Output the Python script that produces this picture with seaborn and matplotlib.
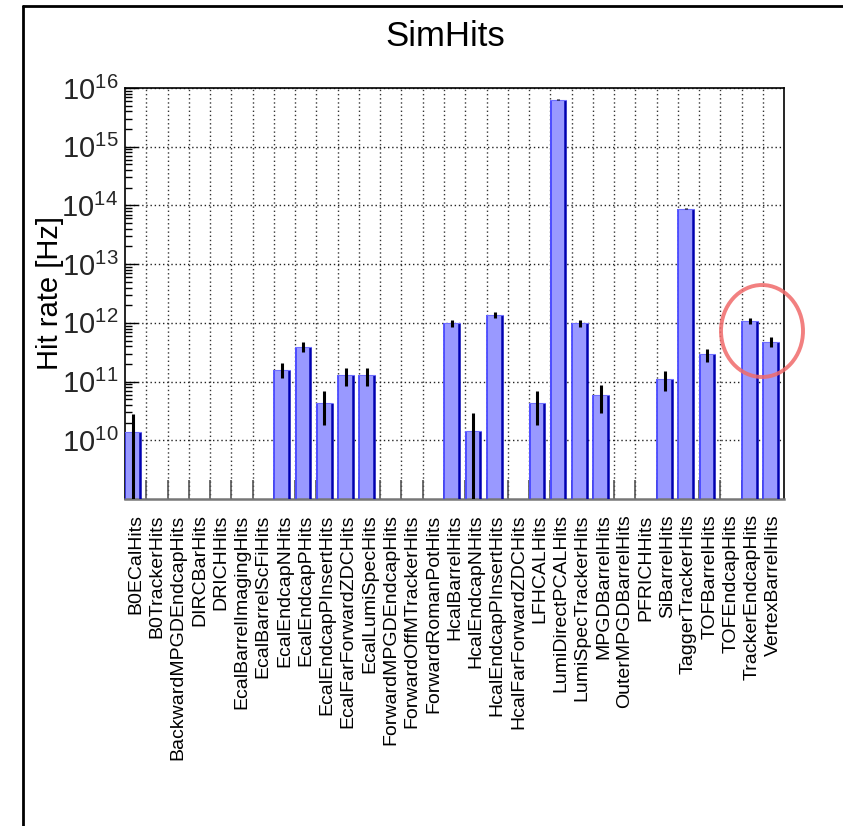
import numpy as np
import pandas as pd
import matplotlib
matplotlib.use("Agg")
import matplotlib.pyplot as plt
import seaborn as sns
from matplotlib.patches import Ellipse
from matplotlib.lines import Line2D
from matplotlib.ticker import FixedLocator, LogLocator, NullFormatter, FuncFormatter

categories = ["B0ECalHits", "B0TrackerHits", "BackwardMPGDEndcapHits", "DIRCBarHits",
              "DRICHHits", "EcalBarrelImagingHits", "EcalBarrelScFiHits", "EcalEndcapNHits",
              "EcalEndcapPHits", "EcalEndcapPInsertHits", "EcalFarForwardZDCHits",
              "EcalLumiSpecHits", "ForwardMPGDEndcapHits", "ForwardOffMTrackerHits",
              "ForwardRomanPotHits", "HcalBarrelHits", "HcalEndcapNHits",
              "HcalEndcapPInsertHits", "HcalFarForwardZDCHits", "LFHCALHits",
              "LumiDirectPCALHits", "LumiSpecTrackerHits", "MPGDBarrelHits",
              "OuterMPGDBarrelHits", "PFRICHHits", "SiBarrelHits", "TaggerTrackerHits",
              "TOFBarrelHits", "TOFEndcapHits", "TrackerEndcapHits", "VertexBarrelHits"]

nan = np.nan
hit_rate = [1.4e10, nan, nan, nan, nan, nan, nan, 1.6e11,
            3.9e11, 4.4e10, 1.27e11, 1.27e11, nan, nan, nan, 1.0e12,
            1.45e10, 1.37e12, nan, 4.4e10, 6.3e15, 1.0e12, 5.9e10,
            nan, nan, 1.12e11, 8.8e13, 2.9e11, nan, 1.08e12, 4.8e11]
hit_err = [1.4e10, nan, nan, nan, nan, nan, nan, 4.6e10,
           7.5e10, 2.6e10, 4.3e10, 4.3e10, nan, nan, nan, 1.4e11,
           1.45e10, 1.6e11, nan, 2.6e10, 8e13, 1.4e11, 3.0e10,
           nan, nan, 4.2e10, 1.5e12, 7.3e10, nan, 1.4e11, 9.8e10]
ytick_values = [1e10, 1e11, 1e12, 1e13, 1e14, 1e15, 1e16]

df = pd.DataFrame({"det": categories, "rate": hit_rate, "err": hit_err})

sns.set_theme(style="white")
plt.rcParams["font.family"] = ["Liberation Sans", "DejaVu Sans"]

W, H = 843, 826
fig = plt.figure(figsize=(W / 100, H / 100), dpi=100)
fig.patch.set_facecolor("white")
fig.patch.set_edgecolor("none")
fig.patch.set_linewidth(0)
ax = fig.add_axes([125 / W, 1 - 499 / H, (784.3 - 125) / W, (499 - 88) / H])
ax.set_yscale("log")

bar_w = 0.75
sns.barplot(data=df, x="det", y="rate", order=categories, width=bar_w,
            color="#9999ff", saturation=1, errorbar=None, ax=ax,
            edgecolor="none", linewidth=0)

# shift bars so they start at the left bin edge (ROOT bar style)
shift = 0.5 - bar_w / 2
err_x, err_y, err_e = [], [], []
err_by_pos = dict(zip(range(len(categories)), hit_err))
for p in ax.patches:
    h = p.get_height()
    if not np.isfinite(h) or h <= 0:
        continue
    p.set_x(p.get_x() - shift)
    x0 = p.get_x()
    x1 = x0 + p.get_width()
    ax.plot([x0 + 0.02, x0 + 0.02], [1e8, h], color="#4040ff", lw=1.2, solid_capstyle="butt", zorder=3)
    ax.plot([x1 - 0.04, x1 - 0.04], [1e8, h], color="#0000b0", lw=1.8, solid_capstyle="butt", zorder=3)
    ax.plot([x0, x1], [h, h], color="#7070ff", lw=0.8, zorder=3)
    idx = int(round(x0 + 0.5))
    err_x.append(x0 + p.get_width() / 2)
    err_y.append(h)
    err_e.append(err_by_pos[idx])

ax.errorbar(err_x, err_y, yerr=err_e, fmt="none", ecolor="black",
            elinewidth=2.2, capsize=0, zorder=4)

ax.set_xlim(-0.5, len(categories) - 0.5)
ax.set_ylim(1e9, 1e16)

# x axis: labels at bin centres, ticks + grid at bin edges
ax.set_xticks(range(len(categories)))
ax.set_xticklabels(categories, rotation=90, fontsize=14, color="black")
ax.xaxis.set_minor_locator(FixedLocator(np.arange(0.5, len(categories) - 0.5, 1.0)))
ax.tick_params(axis="x", which="major", length=0, pad=11)
ax.tick_params(axis="x", which="minor", direction="in", length=14, width=1.2,
               color="#555555", bottom=True, top=False)
ax.set_xlabel("")

# y axis
ax.yaxis.set_major_locator(FixedLocator(ytick_values))
ax.yaxis.set_minor_locator(LogLocator(base=10, subs=np.arange(2, 10), numticks=20))
ax.yaxis.set_minor_formatter(NullFormatter())
ax.yaxis.set_major_formatter(FuncFormatter(lambda v, pos: r"$\mathdefault{10^{%d}}$" % round(np.log10(v))))
ax.tick_params(axis="y", which="major", direction="in", length=9.5, width=1.0,
               labelsize=21, pad=5, color="black", left=True, right=False)
ax.tick_params(axis="y", which="minor", direction="in", length=5, width=1.0,
               color="black", left=True, right=False)

ax.set_ylabel("Hit rate [Hz]", fontsize=21, color="black")
ax.yaxis.set_label_coords(-0.093, 0.5)

ax.grid(False)
ax.grid(axis="y", which="major", color="#222222", linestyle=(0, (1, 2)), linewidth=1.0)
ax.grid(axis="x", which="minor", color="#333333", linestyle=(0, (1, 2)), linewidth=1.0)
ax.set_axisbelow(True)

for s in ["left", "top", "right"]:
    ax.spines[s].set_color("black")
    ax.spines[s].set_linewidth(1.2)
ax.spines["bottom"].set_color("#777777")
ax.spines["bottom"].set_linewidth(1.8)

fig.text(445.5 / W, 1 - 36 / H, "SimHits", ha="center", va="center", fontsize=25, color="black")

# outer pad frame (left and top edges visible; the rest lies outside the image)
fig.add_artist(Line2D([23 / W, 23 / W], [0, 1 - 6 / H], color="black", lw=2.0, transform=fig.transFigure))
fig.add_artist(Line2D([23 / W, 1.02], [1 - 6 / H, 1 - 6 / H], color="black", lw=2.0, transform=fig.transFigure))

# red highlight circle
fig.add_artist(Ellipse((762 / W, 1 - 331 / H), 82 / W, 92 / H, transform=fig.transFigure,
                       fill=False, edgecolor="#f06a6a", alpha=0.85, lw=2.8))

fig.savefig("out.png", dpi=100)
